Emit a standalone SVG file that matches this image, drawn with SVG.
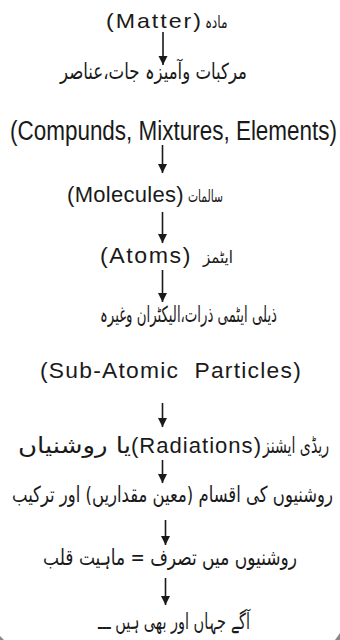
<svg xmlns="http://www.w3.org/2000/svg" width="340" height="640" viewBox="0 0 340 640">
<style>
.en{font-family:"Liberation Sans",Arial,sans-serif;fill:#1a1a1a}
.ur{font-family:"DejaVu Sans","Noto Sans",sans-serif;fill:#1a1a1a;font-size:22px;text-anchor:middle;direction:rtl}
.sm{font-size:17px}
.cn line{stroke:#1a1a1a;stroke-width:1.6}
</style>
<defs>
<marker id="ah" viewBox="0 0 10 10" refX="10" refY="5" markerWidth="9" markerHeight="10" markerUnits="userSpaceOnUse" orient="auto">
<path d="M0,0 L10,5 L0,10 z" fill="#1a1a1a"/>
</marker>
</defs>
<rect width="340" height="640" fill="#fff"/>
<g id="n1">
<text class="en" x="106" y="28" font-size="21" letter-spacing="1.8" textLength="97" lengthAdjust="spacingAndGlyphs">(Matter)</text>
<text class="ur sm" x="216" y="28" textLength="23" lengthAdjust="spacingAndGlyphs">مادہ</text>
</g>
<g id="n2">
<text class="ur" x="153.5" y="79" textLength="187" lengthAdjust="spacingAndGlyphs">مرکبات وآمیزہ جات،عناصر</text>
</g>
<g id="n3">
<text class="en" x="10" y="140" font-size="27" textLength="327" lengthAdjust="spacingAndGlyphs">(Compunds, Mixtures, Elements)</text>
</g>
<g id="n4">
<text class="en" x="67" y="202" font-size="22" letter-spacing="0.3" textLength="117" lengthAdjust="spacingAndGlyphs">(Molecules)</text>
<text class="ur sm" x="205.5" y="202" textLength="35" lengthAdjust="spacingAndGlyphs">سالمات</text>
</g>
<g id="n5">
<text class="en" x="100" y="263" font-size="22" letter-spacing="1.5" textLength="92" lengthAdjust="spacingAndGlyphs">(Atoms)</text>
<text class="ur sm" x="218" y="263" textLength="30" lengthAdjust="spacingAndGlyphs">ایٹمز</text>
</g>
<g id="n6">
<text class="ur" x="188.5" y="322" textLength="177" lengthAdjust="spacingAndGlyphs">ذیلی ایٹمی ذرات،الیکٹران وغیرہ</text>
</g>
<g id="n7">
<text class="en" x="40" y="378" font-size="22" letter-spacing="1.2" textLength="262" lengthAdjust="spacingAndGlyphs" xml:space="preserve">(Sub-Atomic  Particles)</text>
</g>
<g id="n8">
<text class="ur" x="296" y="453" textLength="66" lengthAdjust="spacingAndGlyphs">ریڈی ایشنز</text>
<text class="en" x="131" y="453" font-size="22" letter-spacing="1" textLength="131" lengthAdjust="spacingAndGlyphs">(Radiations)</text>
<text class="ur" x="74.5" y="453" textLength="113" lengthAdjust="spacingAndGlyphs">یا روشنیاں</text>
</g>
<g id="n9">
<text class="ur" x="172.5" y="502" textLength="321" lengthAdjust="spacingAndGlyphs">روشنیوں کی اقسام (معین مقداریں) اور ترکیب</text>
</g>
<g id="n10">
<text class="ur" x="170" y="565" textLength="254" lengthAdjust="spacingAndGlyphs">روشنیوں میں تصرف = ماہیت قلب</text>
</g>
<g id="n11">
<text class="ur" x="174" y="629" textLength="152" lengthAdjust="spacingAndGlyphs">آگے جہاں اور بھی ہیں ـــ</text>
</g>
<g id="connectors" class="cn">
<line x1="163" y1="32" x2="163" y2="65" marker-end="url(#ah)"/>
<line x1="162.5" y1="145" x2="162.5" y2="173" marker-end="url(#ah)"/>
<line x1="162.5" y1="212" x2="162.5" y2="243" marker-end="url(#ah)"/>
<line x1="162.5" y1="270" x2="162.5" y2="302" marker-end="url(#ah)"/>
<line x1="162.5" y1="403" x2="162.5" y2="427" marker-end="url(#ah)"/>
<line x1="162.5" y1="460" x2="162.5" y2="483" marker-end="url(#ah)"/>
<line x1="165.5" y1="520" x2="165.5" y2="545" marker-end="url(#ah)"/>
<line x1="165.5" y1="578" x2="165.5" y2="605" marker-end="url(#ah)"/>
</g>
<path d="M0,636 L4,640 L0,640 z M335,640 L340,633 L340,640 z" fill="#888"/>
</svg>
